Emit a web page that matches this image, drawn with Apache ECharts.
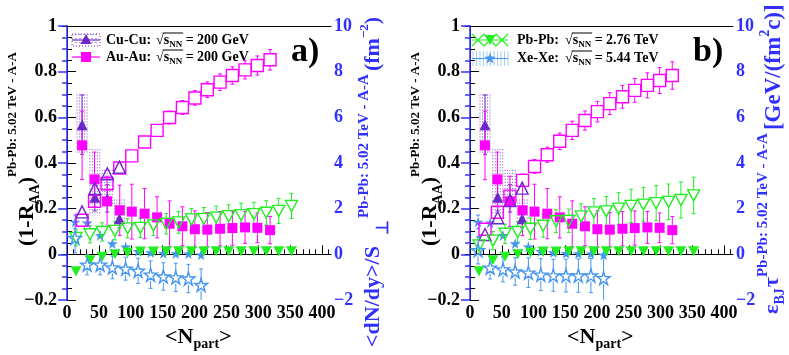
<!DOCTYPE html>
<html><head><meta charset="utf-8">
<script src="https://cdn.jsdelivr.net/npm/echarts@6/dist/echarts.min.js"></script>
<style>html,body{margin:0;padding:0;background:#fff;}#c{width:789px;height:355px;}</style>
</head><body><div id="c"></div>
<script>
// ---------------- DATA ----------------
// Cu-Cu 200 GeV
const npartCu = [23.5, 43.5, 63, 82];
const cuRaa = [0.568, 0.25, 0.245, 0.156];
const cuRaaErr = [0.13, 0.06, 0.06, 0.04];
const cuSysLo = [0.44, 0.17, 0.21, 0.14];
const cuSysHi = [0.70, 0.46, 0.37, 0.24];
const cuDensity = [1.86, 2.88, 3.53, 3.82];
const cuDensityErr = [0.2, 0.2, 0.2, 0.2];
const cuEnergy = [0.87, 1.6, 2.36, 2.9];
const cuEnergyErr = [0.2, 0.2, 0.25, 0.25];
// Au-Au 200 GeV
const npartAu = [23.5, 43, 62.7, 82.6, 101.5, 121.5, 141.2, 160.8, 180.9, 200.5, 220, 240, 259.3, 279.2, 298.5, 318.4];
const auRaa = [0.477, 0.328, 0.232, 0.193, 0.187, 0.178, 0.162, 0.134, 0.123, 0.11, 0.108, 0.112, 0.115, 0.118, 0.116, 0.106];
const auRaaErr = [0.15, 0.12, 0.11, 0.11, 0.12, 0.11, 0.09, 0.1, 0.085, 0.08, 0.075, 0.075, 0.075, 0.07, 0.065, 0.06];
const auDensity = [1.49, 2.32, 3.09, 3.78, 4.31, 4.92, 5.43, 5.99, 6.43, 6.85, 7.21, 7.54, 7.83, 8.08, 8.27, 8.52];
const auDensityErr = [0.15, 0.15, 0.18, 0.2, 0.2, 0.22, 0.25, 0.28, 0.3, 0.32, 0.34, 0.36, 0.38, 0.4, 0.42, 0.45];
const auEnergy = [1.1, 1.84, 2.55, 3.24, 3.85, 4.36, 4.95, 5.43, 5.86, 6.25, 6.6, 6.9, 7.18, 7.4, 7.61, 7.83];
const auEnergyErr = [0.15, 0.2, 0.25, 0.28, 0.3, 0.33, 0.36, 0.4, 0.42, 0.45, 0.48, 0.5, 0.52, 0.55, 0.57, 0.6];
// Pb-Pb 2.76 TeV
const npartPb = [14, 36, 55, 75, 95, 115, 135.5, 155.5, 175, 195, 214.5, 234, 253.5, 273, 293, 312.5, 332, 352];
const pbRaa = [-0.074, -0.026, -0.011, 0.0, 0.008, 0.012, 0.012, 0.013, 0.013, 0.013, 0.014, 0.014, 0.014, 0.014, 0.014, 0.014, 0.014, 0.014];
const pbRaaErr = [0.01, 0.01, 0.01, 0.01, 0.01, 0.01, 0.01, 0.01, 0.01, 0.01, 0.01, 0.01, 0.01, 0.01, 0.01, 0.01, 0.01, 0.01];
const pbDensity = [0.72, 0.88, 0.98, 1.03, 1.14, 1.16, 1.27, 1.34, 1.4, 1.53, 1.55, 1.61, 1.67, 1.72, 1.76, 1.82, 1.9, 2.12];
const pbDensityErr = [0.35, 0.38, 0.4, 0.4, 0.42, 0.42, 0.45, 0.45, 0.48, 0.48, 0.5, 0.5, 0.5, 0.52, 0.52, 0.53, 0.55, 0.55];
const pbEnergy = [0.39, 0.6, 0.9, 0.98, 1.12, 1.25, 1.45, 1.47, 1.66, 1.84, 1.88, 2.0, 2.12, 2.18, 2.24, 2.3, 2.38, 2.58];
const pbEnergyErr = [0.35, 0.4, 0.42, 0.45, 0.47, 0.5, 0.5, 0.51, 0.55, 0.6, 0.65, 0.7, 0.73, 0.75, 0.77, 0.78, 0.79, 0.8];
// Xe-Xe 5.44 TeV
const npartXe = [12.5, 31.5, 51.8, 71, 91.8, 111.4, 131, 151, 170.5, 190.3, 210.2];
const xeRaa = [0.142, 0.138, 0.083, 0.047, 0.033, 0.013, 0.008, 0.005, 0.004, 0.003, -0.002];
const xeRaaErr = [0.03, 0.02, 0.015, 0.012, 0.01, 0.008, 0.008, 0.008, 0.008, 0.008, 0.008];
const xeDensity = [0.72, -0.45, -0.45, -0.57, -0.63, -0.72, -0.89, -0.97, -1.01, -1.06, -1.34];
const xeDensityErr = [0.65, 0.45, 0.45, 0.5, 0.5, 0.55, 0.6, 0.6, 0.62, 0.62, 0.7];
const xeEnergy = [0.18, -0.58, -0.66, -0.75, -0.8, -0.89, -0.92, -0.93, -0.93, -0.93, -1.04];
const xeEnergyErr = [0.6, 0.5, 0.55, 0.6, 0.65, 0.7, 0.7, 0.72, 0.73, 0.75, 1.0];
// ticks
const xMajorTicks = [0, 50, 100, 150, 200, 250, 300, 350, 400];
const xMinorTicks = [0,10,20,30,40,50,60,70,80,90,100,110,120,130,140,150,160,170,180,190,200,210,220,230,240,250,260,270,280,290,300,310,320,330,340,350,360,370,380,390,400,410];

// ---------------- STYLE ----------------
const FONT = '"Liberation Serif","Times New Roman",serif';
const PURPLE = '#6e28c8', MAGENTA = '#ff00ff', GREEN = '#22ee22', XEBLUE = '#4696f0', AXBLUE = '#3030ff';
const STAR = 'path://M50,0 L61,35 L98,35 L68,57 L79,91 L50,70 L21,91 L32,57 L2,35 L39,35 Z';

const mctx = document.createElement('canvas').getContext('2d');
function tw(t, s) { mctx.font = 'bold ' + s + 'px ' + FONT; return mctx.measureText(t).width; }
function run(pieces, color) {
  let x = 0; const ch = [];
  pieces.forEach(p => {
    x += p.dx || 0;
    ch.push({ type: 'text', x: x, y: p.dy || 0, style: { text: p.t, font: 'bold ' + p.s + 'px ' + FONT, fill: p.c || color, textAlign: 'left', textVerticalAlign: 'middle' } });
    x += tw(p.t, p.s);
  });
  return ch;
}
function txt(t, x, y, s, color, align) {
  return { type: 'text', x: x, y: y, style: { text: t, font: 'bold ' + s + 'px ' + FONT, fill: color || '#000', textAlign: align || 'left', textVerticalAlign: 'middle' } };
}
function starPoints(cx, cy, r) {
  const pts = [];
  for (let i = 0; i < 10; i++) {
    const a = -Math.PI / 2 + i * Math.PI / 5; const rr = i % 2 ? r * 0.4 : r;
    pts.push([cx + rr * Math.cos(a), cy + rr * Math.sin(a)]);
  }
  return pts;
}

// ---------------- SERIES HELPERS ----------------
function errSeries(xi, yi, xs, ys, es, color, gap, dashed) {
  return {
    type: 'custom', xAxisIndex: xi, yAxisIndex: yi, z: 3, silent: true, animation: false,
    data: xs.map((x, i) => [x, ys[i], es[i]]),
    renderItem: (params, api) => {
      const x = api.value(0), y = api.value(1), e = api.value(2);
      const c = api.coord([x, y]); const t = api.coord([x, y + e])[1]; const b = api.coord([x, y - e])[1];
      const cs = params.coordSys; const y0 = cs.y, y1 = cs.y + cs.height;
      const st = { stroke: color, lineWidth: 1 };
      if (dashed) st.lineDash = [2, 2];
      const ch = [];
      if (t < c[1] - gap && c[1] - gap > y0) {
        ch.push({ type: 'line', shape: { x1: c[0], y1: Math.min(c[1] - gap, y1), x2: c[0], y2: Math.max(t, y0) }, style: st });
        if (t >= y0) ch.push({ type: 'line', shape: { x1: c[0] - 2, y1: t, x2: c[0] + 2, y2: t }, style: { stroke: color, lineWidth: 1 } });
      }
      if (b > c[1] + gap && c[1] + gap < y1) {
        ch.push({ type: 'line', shape: { x1: c[0], y1: Math.max(c[1] + gap, y0), x2: c[0], y2: Math.min(b, y1) }, style: st });
        if (b <= y1) ch.push({ type: 'line', shape: { x1: c[0] - 2, y1: b, x2: c[0] + 2, y2: b }, style: { stroke: color, lineWidth: 1 } });
      }
      return { type: 'group', children: ch };
    }
  };
}
function sysSeries(xi, yi, xs, lo, hi, color) {
  return {
    type: 'custom', xAxisIndex: xi, yAxisIndex: yi, z: 2, silent: true, animation: false,
    data: xs.map((x, i) => [x, lo[i], hi[i]]),
    renderItem: (params, api) => {
      const a = api.coord([api.value(0), api.value(2)]); const b = api.coord([api.value(0), api.value(1)]);
      const st = { stroke: color, lineWidth: 1, lineDash: [1, 2], opacity: 0.85 };
      const ch = [];
      [-5, -2.5, 0, 2.5, 5].forEach(d => ch.push({ type: 'line', shape: { x1: a[0] + d, y1: a[1], x2: a[0] + d, y2: b[1] }, style: st }));
      return { type: 'group', children: ch };
    }
  };
}
function markSeries(xi, yi, xs, ys, sym, size, color, open, rotate, z) {
  return {
    type: 'scatter', xAxisIndex: xi, yAxisIndex: yi, z: z || 5, silent: true, animation: false,
    symbol: sym, symbolSize: size, symbolRotate: rotate || 0,
    data: xs.map((x, i) => [x, ys[i]]),
    itemStyle: open ? { color: 'rgba(255,255,255,0)', borderColor: color, borderWidth: 1.4, opacity: 1 } : { color: color, borderWidth: 0, opacity: 1 }
  };
}

function panelSeries(xi, yl, yr, right) {
  const cuR = right ? cuEnergy : cuDensity, cuRE = right ? cuEnergyErr : cuDensityErr;
  const auR = right ? auEnergy : auDensity, auRE = right ? auEnergyErr : auDensityErr;
  const pbR = right ? pbEnergy : pbDensity, pbRE = right ? pbEnergyErr : pbDensityErr;
  const xeR = right ? xeEnergy : xeDensity, xeRE = right ? xeEnergyErr : xeDensityErr;
  return [
    sysSeries(xi, yl, npartCu, cuSysLo, cuSysHi, PURPLE),
    errSeries(xi, yl, npartCu, cuRaa, cuRaaErr, PURPLE, 5, false),
    errSeries(xi, yl, npartAu, auRaa, auRaaErr, MAGENTA, 5, false),
    errSeries(xi, yl, npartPb, pbRaa, pbRaaErr, GREEN, 5, false),
    errSeries(xi, yl, npartXe, xeRaa, xeRaaErr, XEBLUE, 5, false),
    errSeries(xi, yr, npartCu, cuR, cuRE, PURPLE, 6, false),
    errSeries(xi, yr, npartAu, auR, auRE, MAGENTA, 6, false),
    errSeries(xi, yr, npartPb, pbR, pbRE, GREEN, 6, false),
    errSeries(xi, yr, npartXe, xeR, xeRE, XEBLUE, 6, false),
    markSeries(xi, yl, npartCu, cuRaa, 'triangle', [11, 11], PURPLE, false, 0, 5),
    markSeries(xi, yl, npartAu, auRaa, 'rect', [10, 10], MAGENTA, false, 0, 6),
    markSeries(xi, yl, npartXe, xeRaa, STAR, [11, 11], XEBLUE, false, 0, 6),
    markSeries(xi, yl, npartPb, pbRaa, 'triangle', [11, 10], GREEN, false, 180, 6),
    markSeries(xi, yr, npartAu, auR, 'rect', [12, 12], MAGENTA, true, 0, 7),
    markSeries(xi, yr, npartCu, cuR, 'triangle', [12, 12], PURPLE, true, 0, 7),
    markSeries(xi, yr, npartPb, pbR, 'triangle', [12, 11], GREEN, true, 180, 7),
    markSeries(xi, yr, npartXe, xeR, STAR, [13, 13], XEBLUE, true, 0, 7)
  ];
}

// ---------------- AXES ----------------
function xAxes(g) {
  const lab = { fontFamily: FONT, fontWeight: 'bold', fontSize: 18, color: '#000', margin: 4 };
  return [
    { type: 'value', gridIndex: g, min: -8, max: 414, position: 'bottom', splitLine: { show: false },
      axisLine: { lineStyle: { color: '#000', width: 1 } },
      axisTick: { inside: true, length: 9, customValues: xMajorTicks, lineStyle: { color: '#000' } },
      axisLabel: Object.assign({ customValues: xMajorTicks }, lab) },
    { type: 'value', gridIndex: g, min: -8, max: 414, position: 'bottom', splitLine: { show: false },
      axisLine: { show: false },
      axisTick: { inside: true, length: 5, customValues: xMinorTicks, lineStyle: { color: '#000' } },
      axisLabel: { show: false } },
    { type: 'value', gridIndex: g, min: -8, max: 414, position: 'top', splitLine: { show: false },
      axisLine: { lineStyle: { color: '#000', width: 1 } }, axisTick: { show: false }, axisLabel: { show: false } }
  ];
}
function yAxes(g) {
  return [
    { type: 'value', gridIndex: g, position: 'left', min: -0.2, max: 1, interval: 0.2, splitLine: { show: false },
      axisLine: { show: true, lineStyle: { color: '#000', width: 1 } },
      axisTick: { inside: true, length: 9, lineStyle: { color: '#000' } },
      minorTick: { show: true, splitNumber: 4, length: 5, lineStyle: { color: '#000' } },
      axisLabel: { fontFamily: FONT, fontWeight: 'bold', fontSize: 18, color: '#000', margin: 5,
        formatter: v => { const r = Math.round(v * 10) / 10; return r < 0 ? '\u2212' + Math.abs(r) : String(r); } } },
    { type: 'value', gridIndex: g, position: 'right', min: -2, max: 10, interval: 2, splitLine: { show: false },
      axisLine: { show: true, lineStyle: { color: AXBLUE, width: 1.5 } },
      axisTick: { inside: true, length: 9, lineStyle: { color: AXBLUE, width: 1.5 } },
      minorTick: { show: true, splitNumber: 4, length: 5, lineStyle: { color: AXBLUE, width: 1.5 } },
      axisLabel: { fontFamily: FONT, fontWeight: 'bold', fontSize: 18, color: AXBLUE, margin: 3,
        formatter: v => { const r = Math.round(v); return r < 0 ? '\u2212' + Math.abs(r) : String(r); } } }
  ];
}

// ---------------- GRAPHIC (titles, legends) ----------------
const SUP = 'Pb-Pb: 5.02 TeV - A-A';
function leftTitle(x) {
  return { type: 'group', x: x, y: 246, rotation: Math.PI / 2,
    children: run([{ t: '(1-R', s: 22 }, { t: 'AA', s: 14, dy: 8 }, { t: ')', s: 22 }, { t: SUP, s: 13, dy: -14 }], '#000') };
}
function xTitle(x) {
  return { type: 'group', x: x, y: 337,
    children: run([{ t: '<N', s: 22 }, { t: 'part', s: 14, dy: 7 }, { t: '>', s: 22 }], '#000') };
}
function legendRow(x, y, label, energy, sqx) {
  const s = 14; const ch = [txt(label, x, y, s)];
  let cx = sqx;
  ch.push(txt('\u221A', cx, y, s)); cx += tw('\u221A', s);
  const ov = cx;
  ch.push(txt('s', cx, y, s)); cx += tw('s', s);
  ch.push(txt('NN', cx, y + 5, 9)); cx += tw('NN', 9);
  ch.push({ type: 'line', shape: { x1: ov - 1, y1: y - 7, x2: cx + 1, y2: y - 7 }, style: { stroke: '#000', lineWidth: 1 } });
  cx += tw(' ', s);
  ch.push(txt('= ' + energy, cx, y, s));
  return ch;
}
const graphics = [];
graphics.push(leftTitle(27), leftTitle(430), xTitle(165), xTitle(567));
graphics.push({ type: 'group', x: 373, y: 347, rotation: Math.PI / 2,
  children: run([{ t: '<dN/dy>/S', s: 22 }, { t: '\u22A5', s: 17, dy: 11, dx: 11 }, { t: SUP, s: 15, dy: -9, dx: 2 },
    { t: '(fm', s: 22, dx: 3 }, { t: '\u22122', s: 13, dy: -8 }, { t: ')', s: 22 }], AXBLUE) });
graphics.push({ type: 'group', x: 772, y: 314, rotation: Math.PI / 2,
  children: run([{ t: '\u03B5', s: 22 }, { t: 'BJ', s: 14, dy: 8 }, { t: '\u03C4', s: 22, dx: 1 }, { t: SUP, s: 15, dy: -9 },
    { t: '[GeV/(fm', s: 23, dx: 3, dy: 2 }, { t: '2', s: 14, dy: -7 }, { t: 'c)]', s: 23, dy: 2 }], AXBLUE) });
graphics.push(txt('a)', 291, 52, 34), txt('b)', 693, 52, 34));
// legend left
const legL = [];
legL.push({ type: 'rect', shape: { x: 72, y: 34, width: 28, height: 12 }, style: { fill: 'none', stroke: PURPLE, lineWidth: 1, lineDash: [1, 2] } });
[76, 80, 84, 88, 92, 96].forEach(x => legL.push({ type: 'line', shape: { x1: x, y1: 34, x2: x, y2: 46 }, style: { stroke: PURPLE, lineWidth: 1, lineDash: [1, 3] } }));
legL.push({ type: 'line', shape: { x1: 72, y1: 40, x2: 100, y2: 40 }, style: { stroke: PURPLE, lineWidth: 1.2 } });
legL.push({ type: 'polygon', shape: { points: [[86, 34], [80.5, 44], [91.5, 44]] }, style: { fill: PURPLE } });
legL.push({ type: 'line', shape: { x1: 72, y1: 57, x2: 100, y2: 57 }, style: { stroke: MAGENTA, lineWidth: 1.2 } });
legL.push({ type: 'rect', shape: { x: 81, y: 52, width: 10, height: 10 }, style: { fill: MAGENTA } });
legL.push(...legendRow(106, 40, 'Cu-Cu:', '200 GeV', 156));
legL.push(...legendRow(106, 57, 'Au-Au:', '200 GeV', 156));
graphics.push({ type: 'group', children: legL });
// legend right
const legR = [];
[472, 484, 496].forEach(x => {
  legR.push({ type: 'line', shape: { x1: x, y1: 34, x2: x + 12, y2: 46 }, style: { stroke: GREEN, lineWidth: 1.2 } });
  legR.push({ type: 'line', shape: { x1: x + 12, y1: 34, x2: x, y2: 46 }, style: { stroke: GREEN, lineWidth: 1.2 } });
});
legR.push({ type: 'line', shape: { x1: 472, y1: 40, x2: 508, y2: 40 }, style: { stroke: GREEN, lineWidth: 1.2 } });
legR.push({ type: 'polygon', shape: { points: [[484.5, 35], [495.5, 35], [490, 45]] }, style: { fill: GREEN } });
for (let x = 473; x <= 508; x += 3.5) legR.push({ type: 'line', shape: { x1: x, y1: 51, x2: x, y2: 66 }, style: { stroke: XEBLUE, lineWidth: 0.8, opacity: 0.6 } });
legR.push({ type: 'line', shape: { x1: 472, y1: 58.5, x2: 508, y2: 58.5 }, style: { stroke: XEBLUE, lineWidth: 1.2 } });
legR.push({ type: 'polygon', shape: { points: starPoints(490, 58.5, 6) }, style: { fill: XEBLUE } });
legR.push(...legendRow(517, 40, 'Pb-Pb:', '2.76 TeV', 565));
legR.push(...legendRow(517, 58, 'Xe-Xe:', '5.44 TeV', 565));
graphics.push({ type: 'group', children: legR });

// ---------------- CHART ----------------
const chart = echarts.init(document.getElementById('c'), null, { renderer: 'canvas' });
chart.setOption({
  animation: false,
  backgroundColor: '#fff',
  grid: [{ left: 62, top: 26, width: 269, height: 274 }, { left: 465, top: 26, width: 268, height: 274 }],
  xAxis: xAxes(0).concat(xAxes(1)),
  yAxis: yAxes(0).concat(yAxes(1)),
  series: panelSeries(0, 0, 1, false).concat(panelSeries(3, 2, 3, true)),
  graphic: graphics
});
</script></body></html>
